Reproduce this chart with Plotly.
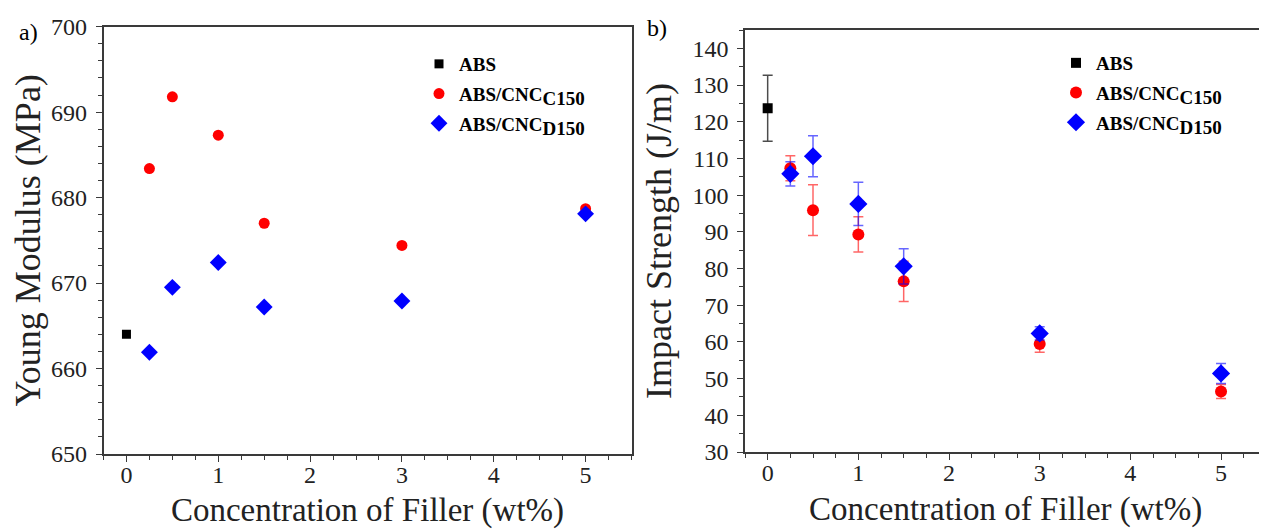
import plotly.graph_objects as go

# ---- data ----
abs_x = [0]
abs_modulus = [664.0]
c150_x = [0.25, 0.5, 1, 1.5, 3, 5]
c150_modulus = [683.4, 691.8, 687.3, 677.0, 674.4, 678.7]
d150_x = [0.25, 0.5, 1, 1.5, 3, 5]
d150_modulus = [661.9, 669.5, 672.4, 667.2, 667.9, 678.1]

abs_impact = [123.7]
abs_impact_err = [9.0]
c150_impact = [107.3, 95.9, 89.3, 76.5, 59.4, 46.5]
c150_impact_err = [3.4, 6.9, 4.8, 5.5, 2.2, 1.9]
d150_impact = [105.8, 110.6, 97.6, 80.6, 62.3, 51.4]
d150_impact_err = [3.3, 5.6, 5.9, 4.8, 1.8, 2.7]

SUBSTYLE = "font-size:19px"
names = ["ABS",
         "ABS/CNC<sub><span style='%s'>C150</span></sub>" % SUBSTYLE,
         "ABS/CNC<sub><span style='%s'>D150</span></sub>" % SUBSTYLE]
x_ticks = [0, 1, 2, 3, 4, 5]

SERIF = "Liberation Serif"
AX = "#3a3a3a"
W, H = 1259, 521   # page body has an 8px margin in the 1267x529 window
OFF = 8

def px(xs):  # screen x -> paper
    return (xs - OFF) / W

def py(ys):  # screen y -> paper
    return 1 - (ys - OFF) / H

fig = go.Figure()

# left panel
fig.add_trace(go.Scatter(x=abs_x, y=abs_modulus, mode="markers", name=names[0],
                         marker=dict(symbol="square", size=9, color="black"),
                         xaxis="x", yaxis="y", legend="legend", legendgroup="a1"))
fig.add_trace(go.Scatter(x=c150_x, y=c150_modulus, mode="markers", name=names[1],
                         marker=dict(symbol="circle", size=11, color="#ff0000"),
                         xaxis="x", yaxis="y", legend="legend", legendgroup="a2"))
fig.add_trace(go.Scatter(x=d150_x, y=d150_modulus, mode="markers", name=names[2],
                         marker=dict(symbol="diamond", size=13, color="#0000ff"),
                         xaxis="x", yaxis="y", legend="legend", legendgroup="a3"))

# right panel
fig.add_trace(go.Scatter(x=abs_x, y=abs_impact, mode="markers", name=names[0],
                         marker=dict(symbol="square", size=10, color="black"),
                         error_y=dict(type="data", array=abs_impact_err, color="rgba(0,0,0,0.7)",
                                      thickness=1.5, width=5),
                         xaxis="x2", yaxis="y2", legend="legend2", legendgroup="b1"))
fig.add_trace(go.Scatter(x=c150_x, y=c150_impact, mode="markers", name=names[1],
                         marker=dict(symbol="circle", size=12, color="#ff0000"),
                         error_y=dict(type="data", array=c150_impact_err, color="rgba(255,0,0,0.6)",
                                      thickness=1.5, width=5),
                         xaxis="x2", yaxis="y2", legend="legend2", legendgroup="b2"))
fig.add_trace(go.Scatter(x=d150_x, y=d150_impact, mode="markers", name=names[2],
                         marker=dict(symbol="diamond", size=14, color="#0000ff"),
                         error_y=dict(type="data", array=d150_impact_err, color="rgba(0,0,255,0.6)",
                                      thickness=1.5, width=5),
                         xaxis="x2", yaxis="y2", legend="legend2", legendgroup="b3"))

tickfont = dict(family=SERIF, size=24, color="#222222")

def xaxis(domain, rng, anchor):
    return dict(domain=domain, range=rng, anchor=anchor, tickvals=x_ticks,
                ticks="outside", ticklen=6, tickwidth=1.2, tickcolor=AX,
                minor=dict(ticks="outside", ticklen=4, dtick=0.25, tickcolor=AX, tickwidth=1),
                showline=True, linecolor=AX, linewidth=1.5, mirror=True,
                showgrid=False, zeroline=False, tickfont=tickfont, ticklabelstandoff=-8,
                title=dict(text="Concentration of Filler (wt%)",
                           font=dict(family=SERIF, size=33, color="#222222"), standoff=12),
                automargin=False)

def yaxis(domain, rng, anchor, dtick, mdtick, title):
    return dict(domain=domain, range=rng, anchor=anchor, dtick=dtick, tick0=0,
                ticks="outside", ticklen=6, tickwidth=1.2, tickcolor=AX,
                minor=dict(ticks="outside", ticklen=4, dtick=mdtick, tickcolor=AX, tickwidth=1),
                showline=True, linecolor=AX, linewidth=1.5, mirror=True,
                showgrid=False, zeroline=False, tickfont=tickfont, ticklabelstandoff=4,
                title=dict(text=title, font=dict(family=SERIF, size=36, color="#222222"),
                           standoff=10),
                automargin=False)

legfont = dict(family=SERIF, size=19, color="black", weight="bold")

fig.update_layout(
    width=W, height=H,
    margin=dict(l=0, r=0, t=0, b=0),
    paper_bgcolor="white", plot_bgcolor="white",
    xaxis=xaxis([px(103.5), px(631.5)], [-0.25, 5.5], "y"),
    yaxis=yaxis([py(454), py(26.7)], [650, 700], "x", 10, 2, "Young Modulus (MPa)"),
    xaxis2=xaxis([px(745), 0.9995], [-0.25, 5.5], "y2"),
    yaxis2=yaxis([py(452), py(30)], [30, 145], "x2", 10, 5, "Impact Strength (J/m)"),
    legend=dict(x=px(419), y=py(45), xanchor="left", yanchor="top", font=legfont,
                bgcolor="rgba(0,0,0,0)", tracegroupgap=2),
    legend2=dict(x=px(1056), y=py(44), xanchor="left", yanchor="top", font=legfont,
                 bgcolor="rgba(0,0,0,0)", tracegroupgap=2),
    showlegend=True,
    annotations=[
        dict(text="a)", x=px(28), y=py(32), xref="paper", yref="paper", showarrow=False,
             xanchor="center", yanchor="middle",
             font=dict(family=SERIF, size=24, color="black")),
        dict(text="b)", x=px(657), y=py(28), xref="paper", yref="paper", showarrow=False,
             xanchor="center", yanchor="middle",
             font=dict(family=SERIF, size=24, color="black")),
    ],
)

fig.write_html("out.html")
